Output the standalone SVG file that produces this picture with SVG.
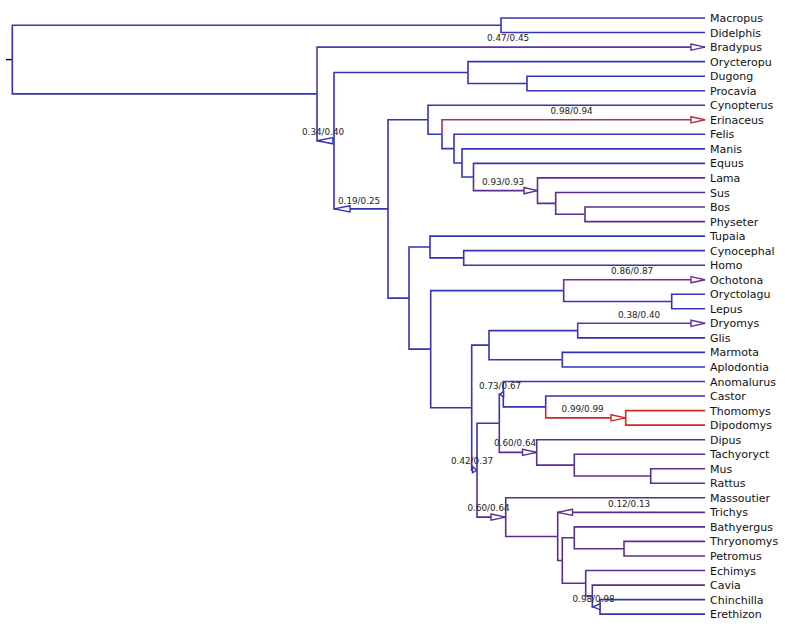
<svg xmlns="http://www.w3.org/2000/svg" width="785" height="632" viewBox="0 0 785 632">
<style>
.br{fill:none;stroke-width:1.6;stroke-linejoin:miter}
.b{stroke:#3434b4}
.p{stroke:#5c2e8c}
.pb{stroke:#5a36a6}
.m{stroke:#7a2a8e}
.c{stroke:#b0304e}
.r{stroke:#d22b20}
.tri{fill:#ffffff;stroke-width:1.4}
.leaf{font-family:"DejaVu Sans",Verdana,sans-serif;font-size:11px;fill:#111}
.sup{font-family:"DejaVu Sans",Verdana,sans-serif;font-size:8.8px;fill:#222}
</style>
<rect width="785" height="632" fill="#ffffff"/>
<g id="connectors">
<path d="M6 59.6 H12.3" stroke="#000" stroke-width="1.4" fill="none"/>
<path class="br b" d="M12.3 59.6 V25.25 H501"/>
<path class="br b" d="M12.3 59.6 V93.9 H317"/>
<path class="br b" d="M501 25.25 V18 H705"/>
<path class="br b" d="M501 25.25 V32.5 H705"/>
<path class="br pb" d="M317 93.9 V47.1 H705"/>
<path class="br b" d="M317 93.9 V140.7 H334"/>
<path class="br b" d="M334 140.7 V72.5 H468"/>
<path class="br b" d="M334 140.7 V208.9 H388"/>
<path class="br b" d="M468 72.5 V61.6 H705"/>
<path class="br b" d="M468 72.5 V83.45 H527"/>
<path class="br b" d="M527 83.45 V76.2 H705"/>
<path class="br b" d="M527 83.45 V90.7 H705"/>
<path class="br b" d="M388 208.9 V119.7 H428"/>
<path class="br b" d="M388 208.9 V298.1 H409"/>
<path class="br b" d="M428 119.7 V105.2 H705"/>
<path class="br b" d="M428 119.7 V134.2 H442"/>
<path class="br c" d="M442 134.2 V119.8 H705"/>
<path class="br b" d="M442 134.2 V148.6 H454"/>
<path class="br b" d="M454 148.6 V134.3 H705"/>
<path class="br b" d="M454 148.6 V162.95 H462"/>
<path class="br b" d="M462 162.95 V148.9 H705"/>
<path class="br b" d="M462 162.95 V177 H473.5"/>
<path class="br b" d="M473.5 177 V163.4 H705"/>
<path class="br p" d="M473.5 177 V190.65 H537.5"/>
<path class="br p" d="M537.5 190.65 V177.9 H705"/>
<path class="br p" d="M537.5 190.65 V203.4 H555.7"/>
<path class="br p" d="M555.7 203.4 V192.5 H705"/>
<path class="br p" d="M555.7 203.4 V214.3 H585"/>
<path class="br p" d="M585 214.3 V207 H705"/>
<path class="br p" d="M585 214.3 V221.6 H705"/>
<path class="br b" d="M409 298.1 V247 H430"/>
<path class="br b" d="M409 298.1 V349.15 H430.7"/>
<path class="br b" d="M430 247 V236.1 H705"/>
<path class="br b" d="M430 247 V257.9 H463.7"/>
<path class="br b" d="M463.7 257.9 V250.6 H705"/>
<path class="br b" d="M463.7 257.9 V265.2 H705"/>
<path class="br b" d="M430.7 349.15 V290.6 H563.7"/>
<path class="br b" d="M430.7 349.15 V407.7 H471.7"/>
<path class="br m" d="M563.7 290.6 V279.7 H705"/>
<path class="br b" d="M563.7 290.6 V301.55 H671.7"/>
<path class="br b" d="M671.7 301.55 V294.3 H705"/>
<path class="br b" d="M671.7 301.55 V308.8 H705"/>
<path class="br b" d="M471.7 407.7 V345.15 H489"/>
<path class="br b" d="M471.7 407.7 V470.2 H477"/>
<path class="br b" d="M489 345.15 V330.6 H577.7"/>
<path class="br b" d="M489 345.15 V359.7 H562.3"/>
<path class="br pb" d="M577.7 330.6 V323.3 H705"/>
<path class="br b" d="M577.7 330.6 V337.9 H705"/>
<path class="br b" d="M562.3 359.7 V352.4 H705"/>
<path class="br b" d="M562.3 359.7 V367 H705"/>
<path class="br b" d="M477 470.2 V423.3 H499.3"/>
<path class="br p" d="M477 470.2 V517.1 H505.7"/>
<path class="br b" d="M499.3 423.3 V394.2 H503.3"/>
<path class="br p" d="M499.3 423.3 V452.4 H536.7"/>
<path class="br b" d="M503.3 394.2 V381.5 H705"/>
<path class="br b" d="M503.3 394.2 V406.9 H545.7"/>
<path class="br b" d="M545.7 406.9 V396 H705"/>
<path class="br r" d="M545.7 406.9 V417.85 H625.7"/>
<path class="br r" d="M625.7 417.85 V410.6 H705"/>
<path class="br r" d="M625.7 417.85 V425.1 H705"/>
<path class="br p" d="M536.7 452.4 V439.7 H705"/>
<path class="br p" d="M536.7 452.4 V465.1 H574.3"/>
<path class="br p" d="M574.3 465.1 V454.2 H705"/>
<path class="br p" d="M574.3 465.1 V476 H650.7"/>
<path class="br p" d="M650.7 476 V468.7 H705"/>
<path class="br p" d="M650.7 476 V483.3 H705"/>
<path class="br p" d="M505.7 517.1 V497.8 H705"/>
<path class="br p" d="M505.7 517.1 V536.45 H557.7"/>
<path class="br p" d="M557.7 536.45 V512.4 H705"/>
<path class="br p" d="M557.7 536.45 V560.5 H562.3"/>
<path class="br p" d="M562.3 560.5 V537.8 H574.3"/>
<path class="br p" d="M562.3 560.5 V583.2 H585.7"/>
<path class="br p" d="M574.3 537.8 V526.9 H705"/>
<path class="br p" d="M574.3 537.8 V548.7 H624"/>
<path class="br p" d="M624 548.7 V541.4 H705"/>
<path class="br p" d="M624 548.7 V556 H705"/>
<path class="br p" d="M585.7 583.2 V570.5 H705"/>
<path class="br p" d="M585.7 583.2 V595.95 H592.3"/>
<path class="br p" d="M592.3 595.95 V585.1 H705"/>
<path class="br b" d="M592.3 595.95 V606.85 H600"/>
<path class="br b" d="M600 606.85 V599.6 H705"/>
<path class="br b" d="M600 606.85 V614.1 H705"/>
<g id="arrows">
<polygon class="tri pb" points="691,44 705,47.1 691,50.2"/>
<polygon class="tri c" points="691,116.7 705,119.8 691,122.9"/>
<polygon class="tri p" points="524,187.5 537.5,190.65 524,193.8"/>
<polygon class="tri m" points="691,276.6 705,279.7 691,282.8"/>
<polygon class="tri pb" points="691,320.2 705,323.3 691,326.4"/>
<polygon class="tri b" points="333,137.6 317,140.7 333,143.8"/>
<polygon class="tri b" points="350,205.8 334,208.9 350,212"/>
<polygon class="tri r" points="611,414.75 625.7,417.85 611,420.95"/>
<polygon class="tri p" points="522.5,449.3 536.7,452.4 522.5,455.5"/>
<polygon class="tri p" points="491,514 505.7,517.1 491,520.2"/>
<polygon class="tri p" points="572.5,509.3 557.7,512.4 572.5,515.5"/>
<polygon class="tri b" points="503.6,391.6 499.8,394.2 503.6,396.8"/>
<polygon class="tri b" points="472.5,466.4 476.8,470.2 472.5,472.8"/>
<polygon class="tri b" points="600,603.9 593,606.85 600,609.8"/>
</g>
</g>
<g id="supports">
<text class="sup" x="487" y="40.5">0.47/0.45</text>
<text class="sup" x="302" y="135">0.34/0.40</text>
<text class="sup" x="338" y="203.5">0.19/0.25</text>
<text class="sup" x="550.5" y="114">0.98/0.94</text>
<text class="sup" x="482" y="185">0.93/0.93</text>
<text class="sup" x="611" y="274">0.86/0.87</text>
<text class="sup" x="618" y="317.5">0.38/0.40</text>
<text class="sup" x="479" y="389">0.73/0.67</text>
<text class="sup" x="561.5" y="412.3">0.99/0.99</text>
<text class="sup" x="494" y="446">0.60/0.64</text>
<text class="sup" x="451" y="464">0.42/0.37</text>
<text class="sup" x="467.5" y="511">0.60/0.64</text>
<text class="sup" x="608" y="506.5">0.12/0.13</text>
<text class="sup" x="572.5" y="601.7">0.98/0.98</text>
</g>
<g id="leaves">
<g id="n-Macropus"><text class="leaf" x="710" y="22">Macropus</text></g>
<g id="n-Didelphis"><text class="leaf" x="710" y="36.5">Didelphis</text></g>
<g id="n-Bradypus"><text class="leaf" x="710" y="51.1">Bradypus</text></g>
<g id="n-Orycteropu"><text class="leaf" x="710" y="65.6">Orycteropu</text></g>
<g id="n-Dugong"><text class="leaf" x="710" y="80.2">Dugong</text></g>
<g id="n-Procavia"><text class="leaf" x="710" y="94.7">Procavia</text></g>
<g id="n-Cynopterus"><text class="leaf" x="710" y="109.2">Cynopterus</text></g>
<g id="n-Erinaceus"><text class="leaf" x="710" y="123.8">Erinaceus</text></g>
<g id="n-Felis"><text class="leaf" x="710" y="138.3">Felis</text></g>
<g id="n-Manis"><text class="leaf" x="710" y="152.9">Manis</text></g>
<g id="n-Equus"><text class="leaf" x="710" y="167.4">Equus</text></g>
<g id="n-Lama"><text class="leaf" x="710" y="181.9">Lama</text></g>
<g id="n-Sus"><text class="leaf" x="710" y="196.5">Sus</text></g>
<g id="n-Bos"><text class="leaf" x="710" y="211">Bos</text></g>
<g id="n-Physeter"><text class="leaf" x="710" y="225.6">Physeter</text></g>
<g id="n-Tupaia"><text class="leaf" x="710" y="240.1">Tupaia</text></g>
<g id="n-Cynocephal"><text class="leaf" x="710" y="254.6">Cynocephal</text></g>
<g id="n-Homo"><text class="leaf" x="710" y="269.2">Homo</text></g>
<g id="n-Ochotona"><text class="leaf" x="710" y="283.7">Ochotona</text></g>
<g id="n-Oryctolagu"><text class="leaf" x="710" y="298.3">Oryctolagu</text></g>
<g id="n-Lepus"><text class="leaf" x="710" y="312.8">Lepus</text></g>
<g id="n-Dryomys"><text class="leaf" x="710" y="327.3">Dryomys</text></g>
<g id="n-Glis"><text class="leaf" x="710" y="341.9">Glis</text></g>
<g id="n-Marmota"><text class="leaf" x="710" y="356.4">Marmota</text></g>
<g id="n-Aplodontia"><text class="leaf" x="710" y="371">Aplodontia</text></g>
<g id="n-Anomalurus"><text class="leaf" x="710" y="385.5">Anomalurus</text></g>
<g id="n-Castor"><text class="leaf" x="710" y="400">Castor</text></g>
<g id="n-Thomomys"><text class="leaf" x="710" y="414.6">Thomomys</text></g>
<g id="n-Dipodomys"><text class="leaf" x="710" y="429.1">Dipodomys</text></g>
<g id="n-Dipus"><text class="leaf" x="710" y="443.7">Dipus</text></g>
<g id="n-Tachyoryct"><text class="leaf" x="710" y="458.2">Tachyoryct</text></g>
<g id="n-Mus"><text class="leaf" x="710" y="472.7">Mus</text></g>
<g id="n-Rattus"><text class="leaf" x="710" y="487.3">Rattus</text></g>
<g id="n-Massoutier"><text class="leaf" x="710" y="501.8">Massoutier</text></g>
<g id="n-Trichys"><text class="leaf" x="710" y="516.4">Trichys</text></g>
<g id="n-Bathyergus"><text class="leaf" x="710" y="530.9">Bathyergus</text></g>
<g id="n-Thryonomys"><text class="leaf" x="710" y="545.4">Thryonomys</text></g>
<g id="n-Petromus"><text class="leaf" x="710" y="560">Petromus</text></g>
<g id="n-Echimys"><text class="leaf" x="710" y="574.5">Echimys</text></g>
<g id="n-Cavia"><text class="leaf" x="710" y="589.1">Cavia</text></g>
<g id="n-Chinchilla"><text class="leaf" x="710" y="603.6">Chinchilla</text></g>
<g id="n-Erethizon"><text class="leaf" x="710" y="618.1">Erethizon</text></g>
</g>
</svg>
